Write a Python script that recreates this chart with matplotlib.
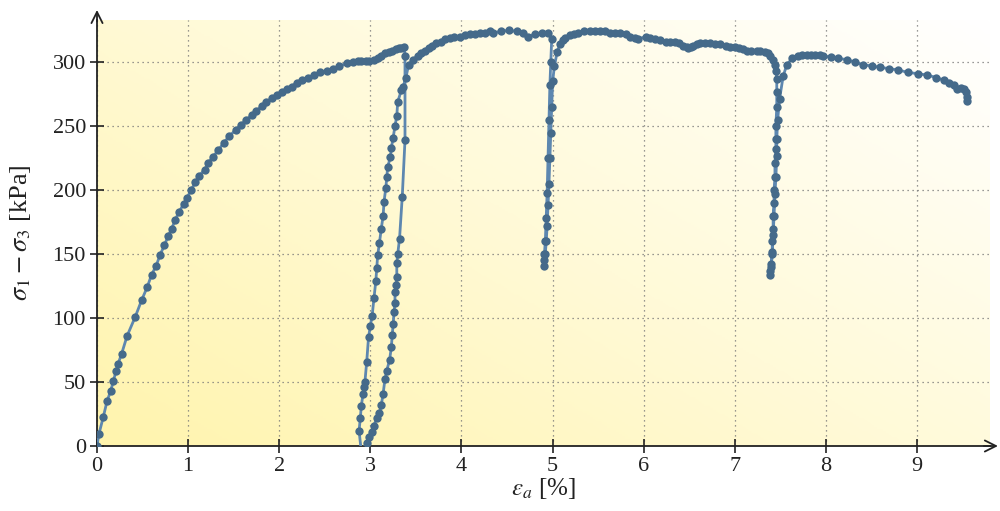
import numpy as np
import matplotlib
matplotlib.use("Agg")
import matplotlib.pyplot as plt
from matplotlib.colors import LinearSegmentedColormap

plt.rcParams['font.family'] = ['Liberation Serif', 'DejaVu Serif']
plt.rcParams['mathtext.fontset'] = 'stix'

# strain [%] and deviator stress [kPa], segment by segment
load1_strain = [0.0, 0.02, 0.07, 0.11, 0.15, 0.18, 0.21, 0.23, 0.27, 0.33, 0.42, 0.49, 0.55, 0.6,
                0.65, 0.69, 0.74, 0.78, 0.82, 0.86, 0.9, 0.95, 0.99, 1.03, 1.08, 1.12, 1.18, 1.22,
                1.27, 1.33, 1.39, 1.45, 1.52, 1.58, 1.64, 1.7, 1.75, 1.81, 1.86, 1.92, 1.97, 2.03,
                2.08, 2.14, 2.19, 2.25, 2.32, 2.38, 2.45, 2.52, 2.59, 2.66, 2.74, 2.81, 2.86, 2.9,
                2.95, 2.99, 3.04, 3.08, 3.12, 3.16, 3.2, 3.24, 3.28, 3.31, 3.34, 3.37]
load1_stress = [0, 9, 23, 35, 43, 51, 59, 64, 72, 86, 101, 114, 124, 134,
                141, 149, 157, 164, 170, 177, 183, 189, 194, 200, 206, 211, 216, 221,
                226, 231, 237, 242, 247, 251, 255, 259, 262, 266, 269, 272, 274, 277,
                279, 281, 284, 286, 288, 290, 292, 293, 295, 297, 299, 300, 301, 301,
                301, 301, 302, 303, 305, 307, 308, 309, 310, 311, 311, 312]

unload1_strain = [3.38, 3.38, 3.35, 3.32, 3.30, 3.29, 3.29, 3.28, 3.27, 3.27, 3.26, 3.25, 3.24,
                  3.23, 3.21, 3.18, 3.16, 3.14, 3.12, 3.10, 3.07, 3.04, 3.02, 2.99, 2.96, 2.90]
unload1_stress = [305, 239, 195, 162, 150, 143, 132, 126, 120, 112, 105, 95, 87,
                  77, 67, 59, 52, 41, 32, 26, 22, 16, 11, 7, 2, -4]

reload1_strain = [2.876, 2.89, 2.9, 2.92, 2.93, 2.94, 2.96, 2.98, 3.0, 3.02, 3.04, 3.06, 3.07, 3.08,
                  3.1, 3.12, 3.14, 3.15, 3.17, 3.18, 3.19, 3.22, 3.23, 3.25, 3.27, 3.29, 3.3, 3.34,
                  3.36, 3.39, 3.42, 3.47, 3.52, 3.56, 3.6, 3.64, 3.68, 3.72, 3.77, 3.82, 3.87, 3.92,
                  3.98, 4.04, 4.09, 4.15, 4.2, 4.26, 4.31, 4.35, 4.43, 4.52, 4.61, 4.68, 4.73, 4.81,
                  4.88, 4.95, 4.99]
reload1_stress = [12, 22, 31, 41, 46, 50, 66, 85, 94, 102, 116, 129, 139, 149,
                  159, 170, 180, 191, 202, 210, 218, 226, 233, 241, 250, 258, 269, 278,
                  281, 288, 298, 302, 305, 307, 309, 311, 313, 315, 316, 318, 319, 320,
                  320, 321, 322, 322, 323, 323, 324, 323, 324, 325, 324, 323, 320, 322,
                  323, 323, 318]

unload2_strain = [4.98, 4.97, 4.96, 4.95, 4.94, 4.93, 4.92, 4.91, 4.91, 4.91]
unload2_stress = [300, 282, 255, 225, 198, 178, 160, 150, 145, 141]

reload2_strain = [4.92, 4.93, 4.94, 4.95, 4.96, 4.97, 4.98, 4.99, 5.0, 5.02, 5.05, 5.08, 5.11, 5.14,
                  5.19, 5.23, 5.28, 5.34, 5.41, 5.47, 5.52, 5.57, 5.63, 5.68, 5.74, 5.8, 5.85, 5.9,
                  5.94, 6.02, 6.07, 6.12, 6.18, 6.24, 6.29, 6.34, 6.39, 6.43, 6.47, 6.49, 6.52, 6.54,
                  6.58, 6.62, 6.67, 6.73, 6.78, 6.84, 6.9, 6.95, 7.0, 7.04, 7.09, 7.13, 7.18, 7.24,
                  7.28, 7.33, 7.36, 7.39, 7.42, 7.44]
reload2_stress = [150, 160, 172, 188, 205, 225, 245, 265, 285, 297, 308, 314, 317, 319,
                  321, 322, 323, 324, 324, 324, 324, 324, 323, 323, 323, 322, 320, 319,
                  318, 320, 319, 318, 317, 316, 316, 316, 315, 313, 312, 311, 312, 313,
                  314, 315, 315, 315, 314, 314, 313, 312, 312, 311, 310, 309, 309, 309,
                  309, 308, 307, 305, 302, 298]

unload3_strain = [7.45, 7.46, 7.46, 7.46, 7.45, 7.45, 7.45, 7.44, 7.44, 7.43, 7.43, 7.42, 7.42,
                  7.41, 7.41, 7.40, 7.39, 7.39]
unload3_stress = [293, 287, 277, 265, 250, 240, 232, 221, 210, 200, 190, 180, 170,
                  160, 150, 142, 137, 134]

reload3_strain = [7.40, 7.41, 7.42, 7.43, 7.44, 7.45, 7.46, 7.46, 7.47, 7.49,
                  7.53, 7.57, 7.63, 7.69,
                  7.74, 7.79, 7.84, 7.88, 7.93, 7.97,
                  8.05, 8.13, 8.23, 8.32, 8.41, 8.51, 8.59, 8.69,
                  8.79, 8.9, 9.01, 9.11, 9.21, 9.29, 9.35, 9.4, 9.44, 9.48, 9.51, 9.54, 9.55, 9.55]
reload3_stress = [140, 152, 165, 180, 197, 210, 227, 240, 255, 271,
                  289, 298, 303, 305,
                  306, 306, 306, 306, 306, 305,
                  304, 303, 302, 300, 298, 297, 296, 295,
                  294, 292, 291, 290, 288, 286, 284, 282, 279, 280, 279, 277, 273, 270]

strain = (load1_strain + unload1_strain + reload1_strain + unload2_strain + reload2_strain
          + unload3_strain + reload3_strain)
stress = (load1_stress + unload1_stress + reload1_stress + unload2_stress + reload2_stress
          + unload3_stress + reload3_stress)

fig = plt.figure(figsize=(10, 5.11), dpi=100)
ax = fig.add_axes([0.097, 0.1272, 0.893, 0.8337])

xmax, ymax = 9.8, 333

# diagonal yellow-to-white background
grad_cmap = LinearSegmentedColormap.from_list(
    'bg', [(0, '#fff4ad'), (0.5, '#fffad8'), (1, '#ffffff')])
gx, gy = np.meshgrid(np.linspace(0, 1, 300), np.linspace(0, 1, 200))
ax.imshow(0.55 * gx + 0.45 * gy, cmap=grad_cmap, extent=[0, xmax, 0, ymax],
          origin='lower', aspect='auto', zorder=0, vmin=0, vmax=1)

ax.plot(strain, stress, color='#5d87b0', lw=2, zorder=3)
ax.plot(strain, stress, 'o', color='#456a8a', ms=6, mec='none', zorder=4)

ax.set_xlim(0, xmax)
ax.set_ylim(0, ymax)
ax.set_xticks(range(0, 10))
ax.set_yticks(range(0, 301, 50))
ax.grid(True, ls=(0, (1, 3)), color='#777777', lw=0.9, zorder=1)

for s in ['top', 'right']:
    ax.spines[s].set_visible(False)
for s in ['left', 'bottom']:
    ax.spines[s].set_color('#222222')
    ax.spines[s].set_linewidth(1.3)
ax.tick_params(direction='inout', length=10, width=1.2, color='#222222', labelsize=16,
               labelcolor='#222222', pad=3)

ax.annotate('', xy=(1.012, 0), xytext=(0.99, 0), xycoords='axes fraction',
            arrowprops=dict(arrowstyle='->', color='#222222', lw=1.3, mutation_scale=20),
            annotation_clip=False)
ax.annotate('', xy=(0, 1.03), xytext=(0, 0.99), xycoords='axes fraction',
            arrowprops=dict(arrowstyle='->', color='#222222', lw=1.3, mutation_scale=20),
            annotation_clip=False)

ax.set_xlabel(r'$\varepsilon_a$ [%]', fontsize=18, color='#222222', labelpad=0)
ax.set_ylabel(r'$\sigma_1 - \sigma_3$ [kPa]', fontsize=19, color='#222222', labelpad=14)

fig.savefig('out.png', dpi=100)
